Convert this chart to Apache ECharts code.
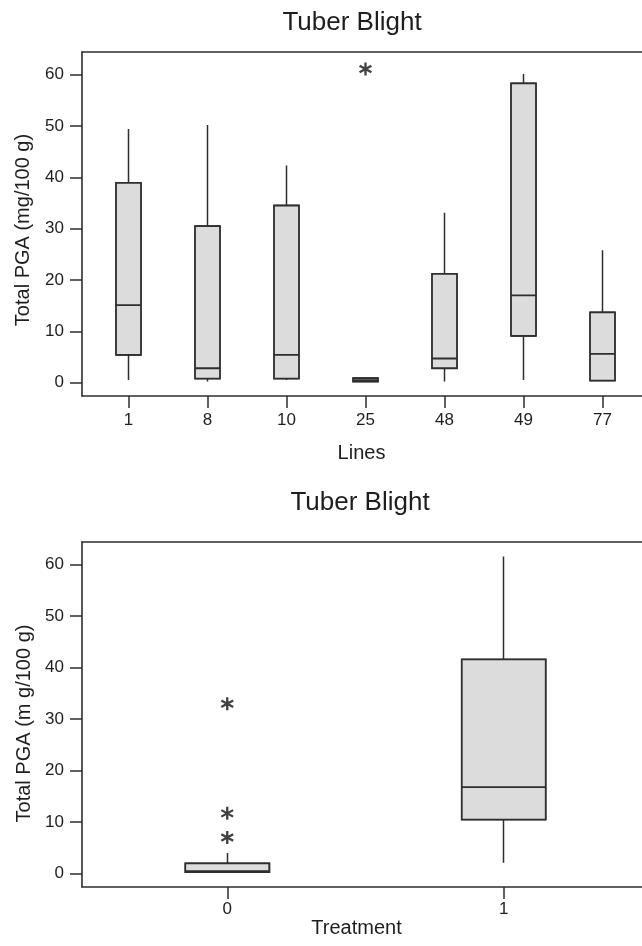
<!DOCTYPE html>
<html>
<head>
<meta charset="utf-8">
<script src="https://cdn.jsdelivr.net/npm/echarts@6/dist/echarts.min.js"></script>
<style>
  html, body { margin: 0; padding: 0; background: #ffffff; }
  #chart { width: 642px; height: 946px; }
</style>
</head>
<body>
<div id="chart"></div>
<script>
// ---- Data ----
const lines = ['1', '8', '10', '25', '48', '49', '77'];
const linesMin    = [0.5, 0.2, 0.5, 0.2, 0.2, 0.5, 0.4];
const linesQ1     = [5.4, 0.8, 0.8, 0.2, 2.8, 9.1, 0.4];
const linesMedian = [15.1, 2.8, 5.4, 0.5, 4.7, 17.0, 5.6];
const linesQ3     = [38.9, 30.5, 34.5, 0.9, 21.2, 58.3, 13.7];
const linesMax    = [49.4, 50.2, 42.3, 0.9, 33.1, 60.1, 25.8];
const linesOutliers = [['25', 61.1]];

const treatment = ['0', '1'];
const treatMin    = [0.3, 2.1];
const treatQ1     = [0.3, 10.5];
const treatMedian = [0.5, 16.8];
const treatQ3     = [2.0, 41.6];
const treatMax    = [4.0, 61.6];
const treatOutliers = [['0', 33.0], ['0', 11.7], ['0', 7.0]];

const yTicks = [0, 10, 20, 30, 40, 50, 60];
const yMin = -2.6, yMax = 64.4;

// ---- Styling ----
const FONT = 'Liberation Sans, Arial, sans-serif';
const TXT = '#1e1e1e';
const LINE = '#2e2e2e';
const FILL = '#dcdcdc';
const ASTERISK = 'path://M-1.7,-10 L1.7,-10 L1.7,10 L-1.7,10 Z ' +
  'M9.51,3.53 L7.81,6.47 L-9.51,-3.53 L-7.81,-6.47 Z ' +
  'M-7.81,6.47 L-9.51,3.53 L7.81,-6.47 L9.51,-3.53 Z';

function candleData(q1, q3, mn, mx) {
  return q1.map((v, i) => [v, q3[i], mn[i], mx[i]]);
}
function boxData(q1, med, q3) {
  return q1.map((v, i) => [v, v, med[i], q3[i], q3[i]]);
}

const frameAxis = (grid, pos) => ({
  gridIndex: grid, type: 'value', position: pos, min: 0, max: 1,
  axisLine: { show: true, onZero: false, lineStyle: { color: LINE, width: 1.6 } },
  axisTick: { show: false }, axisLabel: { show: false }, splitLine: { show: false }
});

const catAxis = (grid, data, name, nameGap, labelMargin, namePad) => ({
  gridIndex: grid, type: 'category', data: data, position: 'bottom',
  axisLine: { show: false, onZero: false },
  axisTick: { show: true, alignWithLabel: true, length: 12, lineStyle: { color: LINE, width: 1.5 } },
  axisLabel: { color: TXT, fontSize: 17, fontFamily: FONT, margin: labelMargin },
  splitLine: { show: false },
  name: name, nameLocation: 'middle', nameGap: nameGap,
  nameTextStyle: { color: TXT, fontSize: 20, fontFamily: FONT, padding: namePad }
});

const valueAxis = (grid, name, nameGap, namePad) => ({
  gridIndex: grid, type: 'value', min: yMin, max: yMax,
  axisLine: { show: true, onZero: false, lineStyle: { color: LINE, width: 1.6 } },
  axisTick: { show: true, length: 12, customValues: yTicks, lineStyle: { color: LINE, width: 1.5 } },
  axisLabel: { color: TXT, fontSize: 17, fontFamily: FONT, margin: 18, customValues: yTicks },
  splitLine: { show: false },
  name: name, nameLocation: 'middle', nameGap: nameGap,
  nameTextStyle: { color: TXT, fontSize: 20, fontFamily: FONT, padding: namePad }
});

const hiddenY = (grid) => ({ gridIndex: grid, type: 'value', min: yMin, max: yMax, show: false });

const chart = echarts.init(document.getElementById('chart'));
chart.setOption({
  animation: false,
  backgroundColor: '#ffffff',
  title: [
    { text: 'Tuber Blight', left: 352, top: 10, textAlign: 'center', padding: 0,
      textStyle: { fontSize: 26, fontWeight: 'normal', color: TXT, fontFamily: FONT } },
    { text: 'Tuber Blight', left: 360, top: 490, textAlign: 'center', padding: 0,
      textStyle: { fontSize: 26, fontWeight: 'normal', color: TXT, fontFamily: FONT } }
  ],
  grid: [
    { left: 82, width: 563, top: 52, height: 344 },
    { left: 89, width: 556, top: 52, height: 344 },
    { left: 82, width: 563, top: 542, height: 345 },
    { left: 89, width: 556, top: 542, height: 345 }
  ],
  xAxis: [
    frameAxis(0, 'bottom'),
    frameAxis(0, 'top'),
    catAxis(1, lines, 'Lines', 47, 16, [0, 8, 0, 0]),
    frameAxis(2, 'bottom'),
    frameAxis(2, 'top'),
    catAxis(3, treatment, 'Treatment', 30, 14, [0, 18, 0, 0])
  ],
  yAxis: [
    valueAxis(0, 'Total PGA (mg/100 g)', 49, [0, 12, 0, 0]),
    hiddenY(1),
    valueAxis(2, 'Total PGA (m g/100 g)', 46, [0, 18, 0, 0]),
    hiddenY(3)
  ],
  series: [
    {
      type: 'candlestick', xAxisIndex: 2, yAxisIndex: 1, barWidth: 25, z: 2,
      data: candleData(linesQ1, linesQ3, linesMin, linesMax),
      itemStyle: { color: FILL, color0: FILL, borderColor: LINE, borderColor0: LINE, borderWidth: 1.5 }
    },
    {
      type: 'boxplot', xAxisIndex: 2, yAxisIndex: 1, boxWidth: [25, 25], z: 3,
      data: boxData(linesQ1, linesMedian, linesQ3),
      itemStyle: { color: FILL, borderColor: LINE, borderWidth: 1.8 }
    },
    {
      type: 'scatter', xAxisIndex: 2, yAxisIndex: 1, z: 4,
      symbol: ASTERISK, symbolSize: 13, data: linesOutliers,
      itemStyle: { color: '#111' }
    },
    {
      type: 'candlestick', xAxisIndex: 5, yAxisIndex: 3, barWidth: 84, z: 2,
      data: candleData(treatQ1, treatQ3, treatMin, treatMax),
      itemStyle: { color: FILL, color0: FILL, borderColor: LINE, borderColor0: LINE, borderWidth: 1.5 }
    },
    {
      type: 'boxplot', xAxisIndex: 5, yAxisIndex: 3, boxWidth: [84, 84], z: 3,
      data: boxData(treatQ1, treatMedian, treatQ3),
      itemStyle: { color: FILL, borderColor: LINE, borderWidth: 1.8 }
    },
    {
      type: 'scatter', xAxisIndex: 5, yAxisIndex: 3, z: 4,
      symbol: ASTERISK, symbolSize: 13, data: treatOutliers,
      itemStyle: { color: '#111' }
    }
  ]
});
</script>
</body>
</html>
